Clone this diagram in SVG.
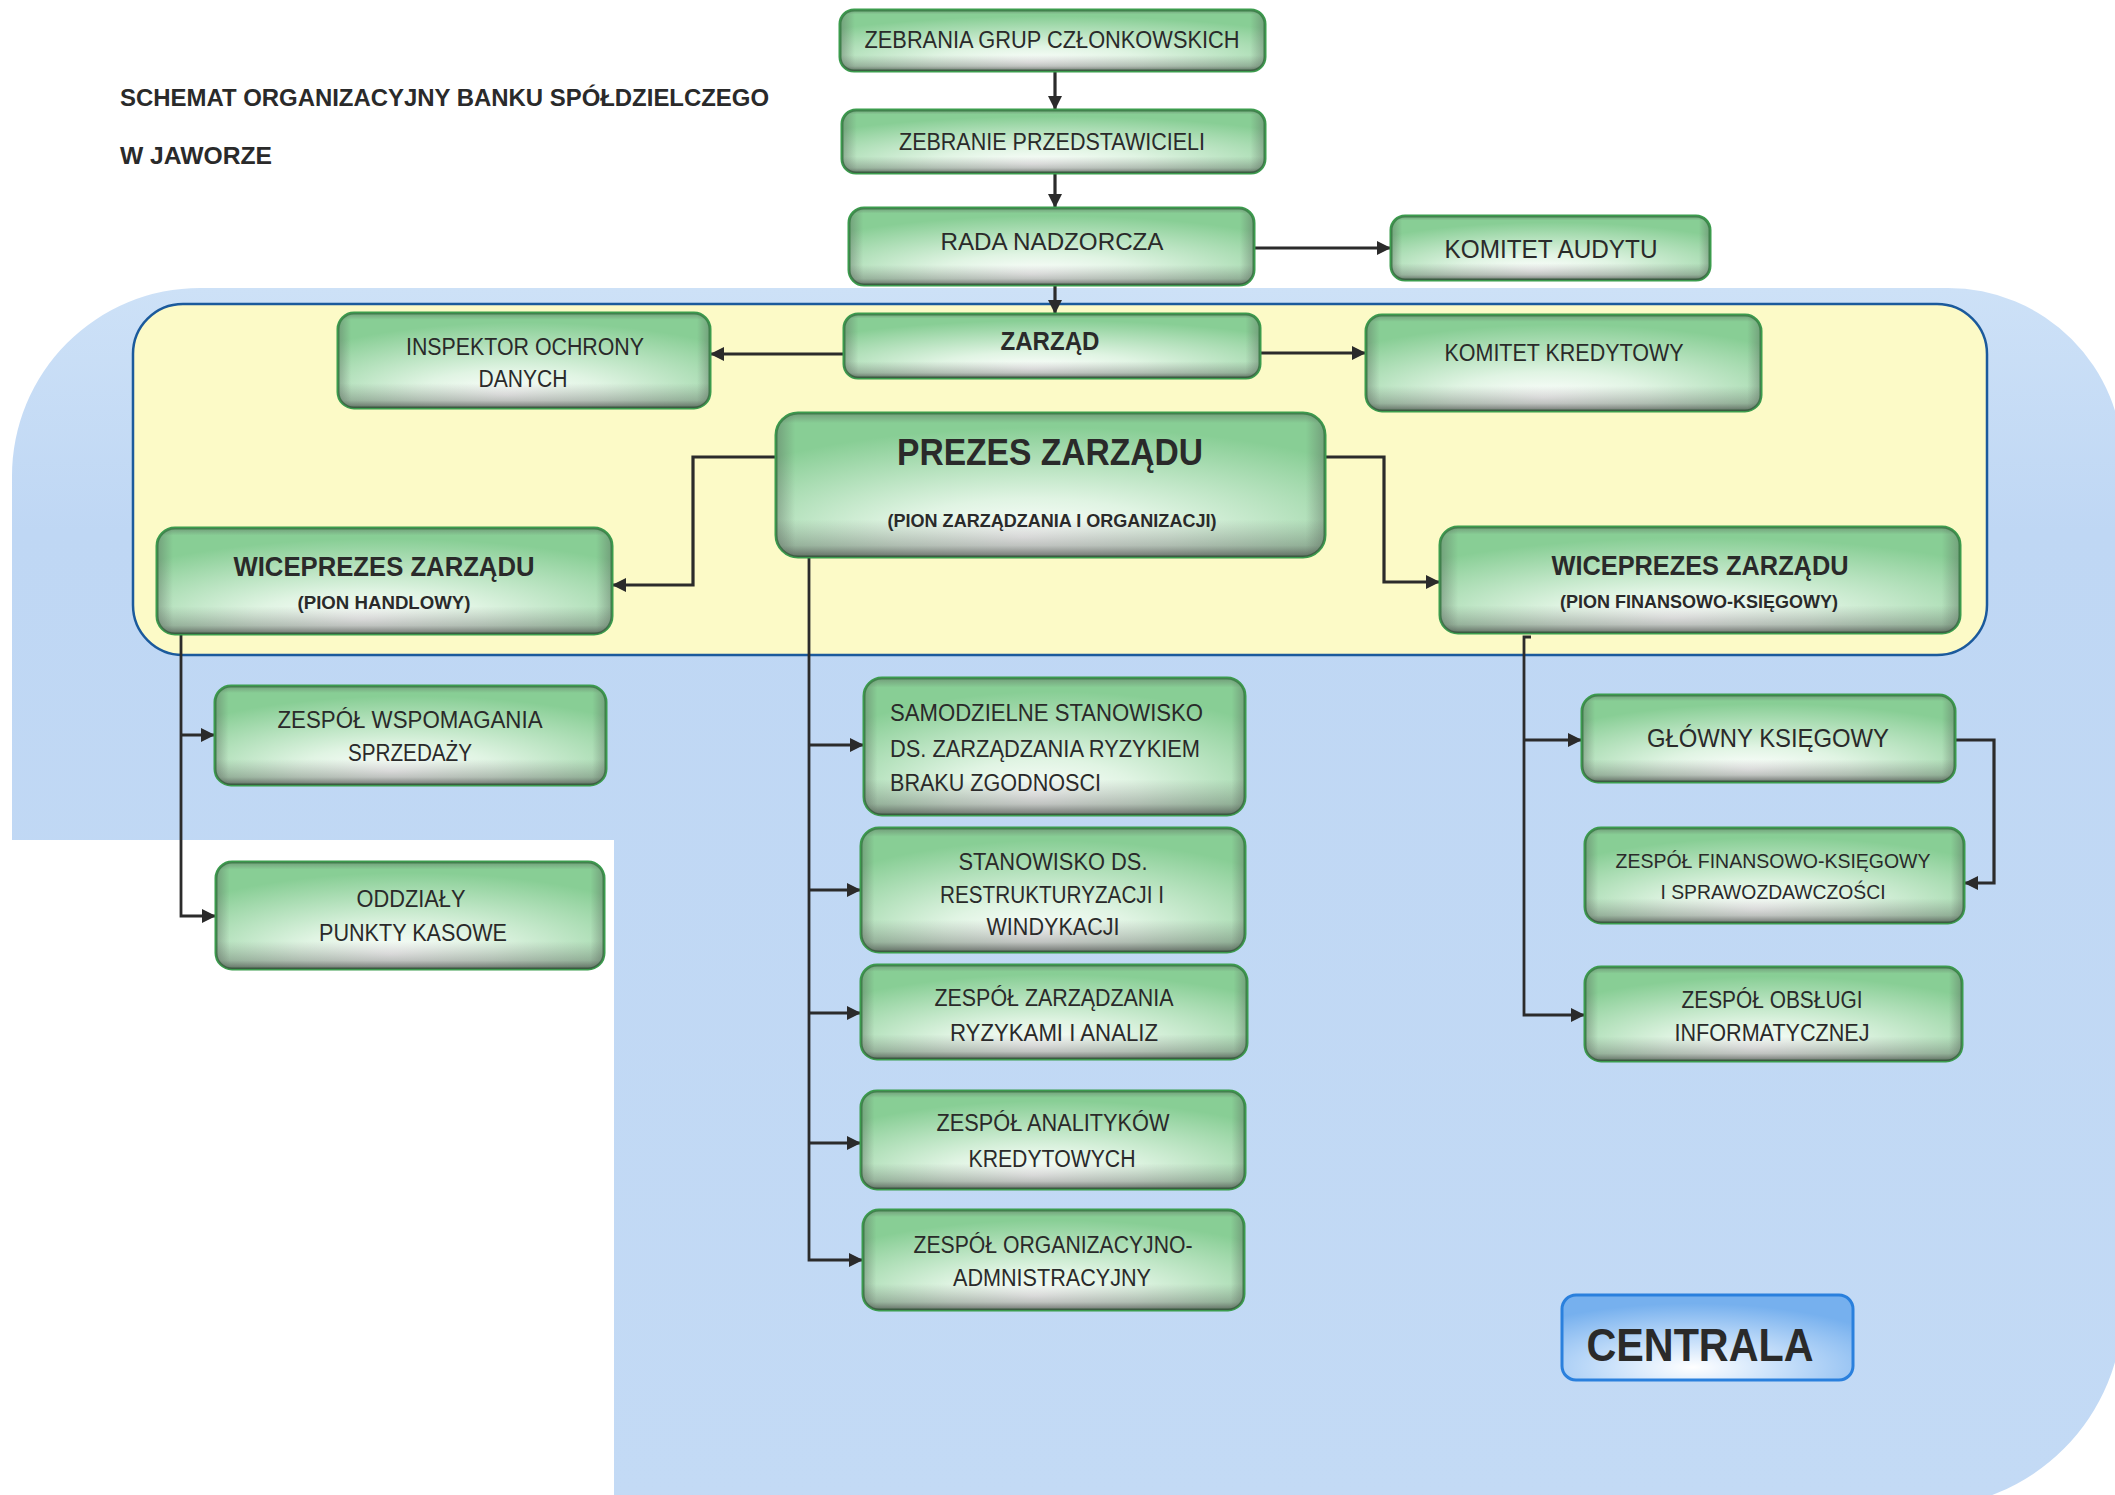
<svg xmlns="http://www.w3.org/2000/svg" width="2115" height="1495" viewBox="0 0 2115 1495">
<style>
text{font-family:"Liberation Sans",Arial,sans-serif;fill:#2a2a2a}
.t{font-size:23px;text-anchor:middle}
.tb{font-weight:bold;text-anchor:middle}
.b{fill:url(#gGreen);stroke:#3b9c4d;stroke-width:3}
.s{fill:url(#gShade);stroke:none}
.sd{fill:url(#gSide);stroke:none}
.c{fill:none;stroke:#2b2b2b;stroke-width:3.2;stroke-linejoin:miter}
.ca{marker-end:url(#arr)}
</style>
<defs>
<radialGradient id="gGreen" cx="0.5" cy="0.82" r="0.72" fx="0.45" fy="0.86">
<stop offset="0" stop-color="#ffffff"/>
<stop offset="0.35" stop-color="#e0f4e3"/>
<stop offset="1" stop-color="#88ce95"/>
</radialGradient>
<linearGradient id="gShade" x1="0" y1="0" x2="0" y2="1">
<stop offset="0" stop-color="#505050" stop-opacity="0.4"/>
<stop offset="0.07" stop-color="#505050" stop-opacity="0"/>
<stop offset="0.74" stop-color="#505050" stop-opacity="0"/>
<stop offset="0.92" stop-color="#4a4a4a" stop-opacity="0.32"/>
<stop offset="1" stop-color="#3a3a3a" stop-opacity="0.7"/>
</linearGradient>
<linearGradient id="gSide" x1="0" y1="0" x2="1" y2="0">
<stop offset="0" stop-color="#4a4a4a" stop-opacity="0.35"/>
<stop offset="0.035" stop-color="#4a4a4a" stop-opacity="0"/>
<stop offset="0.965" stop-color="#4a4a4a" stop-opacity="0"/>
<stop offset="1" stop-color="#4a4a4a" stop-opacity="0.35"/>
</linearGradient>
<radialGradient id="gBlueBox" cx="0.45" cy="0.85" r="0.75">
<stop offset="0" stop-color="#ffffff"/>
<stop offset="0.35" stop-color="#cfe4fb"/>
<stop offset="1" stop-color="#76b0ee"/>
</radialGradient>
<linearGradient id="gBg" x1="0" y1="288" x2="0" y2="1500" gradientUnits="userSpaceOnUse">
<stop offset="0" stop-color="#cde1f7"/>
<stop offset="0.2" stop-color="#bfd7f4"/>
<stop offset="1" stop-color="#c3daf5"/>
</linearGradient>
<marker id="arr" viewBox="0 0 14 14" refX="13" refY="7" markerWidth="14" markerHeight="14" markerUnits="userSpaceOnUse" orient="auto">
<path d="M0,0 L14,7 L0,14 Z" fill="#2b2b2b"/>
</marker>
</defs>
<rect x="0" y="0" width="2115" height="1495" fill="#ffffff"/>
<g id="background">
<path d="M200 288 H1948 A175 175 0 0 1 2123 463 V1306 A202 202 0 0 1 1921 1508 H614 V840 H12 V476 A188 188 0 0 1 200 288 Z" fill="url(#gBg)"/>
<rect x="133" y="304" width="1854" height="351" rx="50" fill="#fcfac7" stroke="#1b5a9c" stroke-width="2.5"/>
</g>
<g id="title">
<text x="120" y="106" style="font-size:24px;font-weight:bold" textLength="649" lengthAdjust="spacingAndGlyphs">SCHEMAT ORGANIZACYJNY BANKU SPÓŁDZIELCZEGO</text>
<text x="120" y="164" style="font-size:24px;font-weight:bold" textLength="152" lengthAdjust="spacingAndGlyphs">W JAWORZE</text>
</g>
<g id="connectors">
<path class="c ca" d="M1055 71 V109"/>
<path class="c ca" d="M1055 173 V207"/>
<path class="c ca" d="M1055 285 V313"/>
<path class="c ca" d="M1254 248 H1390"/>
<path class="c ca" d="M844 354 H711"/>
<path class="c ca" d="M1260 353 H1365"/>
<path class="c ca" d="M776 457 H693 V585 H613"/>
<path class="c ca" d="M1325 457 H1384 V582 H1439"/>
<path class="c ca" d="M181 634 V916 H215" style="stroke-width:2.8"/>
<path class="c ca" d="M181 735 H214"/>
<path class="c ca" d="M809 558 V1260 H862" style="stroke-width:2.8"/>
<path class="c ca" d="M809 745 H863"/>
<path class="c ca" d="M809 890 H860"/>
<path class="c ca" d="M809 1013 H860"/>
<path class="c ca" d="M809 1143 H860"/>
<path class="c ca" d="M1531 637 H1524 V1015 H1584" style="stroke-width:2.8"/>
<path class="c ca" d="M1524 740 H1581"/>
<path class="c ca" d="M1955 740 H1994 V883 H1965"/>
</g>
<g id="n-zebrania-grup">
<rect class="b" x="840" y="10" width="425" height="61" rx="14"/><rect class="s" x="840" y="10" width="425" height="61" rx="14"/><rect class="sd" x="840" y="10" width="425" height="61" rx="14"/>
<text class="t" x="1052" y="48" textLength="375" lengthAdjust="spacingAndGlyphs">ZEBRANIA GRUP CZŁONKOWSKICH</text>
</g>
<g id="n-zebranie-przedstawicieli">
<rect class="b" x="842" y="110" width="423" height="63" rx="14"/><rect class="s" x="842" y="110" width="423" height="63" rx="14"/><rect class="sd" x="842" y="110" width="423" height="63" rx="14"/>
<text class="t" x="1052" y="150" textLength="306" lengthAdjust="spacingAndGlyphs">ZEBRANIE PRZEDSTAWICIELI</text>
</g>
<g id="n-rada-nadzorcza">
<rect class="b" x="849" y="208" width="405" height="77" rx="15"/><rect class="s" x="849" y="208" width="405" height="77" rx="15"/><rect class="sd" x="849" y="208" width="405" height="77" rx="15"/>
<text class="t" x="1052" y="250" style="font-size:24px" textLength="223" lengthAdjust="spacingAndGlyphs">RADA NADZORCZA</text>
</g>
<g id="n-komitet-audytu">
<rect class="b" x="1391" y="216" width="319" height="64" rx="14"/><rect class="s" x="1391" y="216" width="319" height="64" rx="14"/><rect class="sd" x="1391" y="216" width="319" height="64" rx="14"/>
<text class="t" x="1551" y="258" style="font-size:25px" textLength="213" lengthAdjust="spacingAndGlyphs">KOMITET AUDYTU</text>
</g>
<g id="n-zarzad">
<rect class="b" x="844" y="314" width="416" height="64" rx="14"/><rect class="s" x="844" y="314" width="416" height="64" rx="14"/><rect class="sd" x="844" y="314" width="416" height="64" rx="14"/>
<text class="tb" x="1050" y="350" style="font-size:25px" textLength="99" lengthAdjust="spacingAndGlyphs">ZARZĄD</text>
</g>
<g id="n-inspektor">
<rect class="b" x="338" y="313" width="372" height="95" rx="16"/><rect class="s" x="338" y="313" width="372" height="95" rx="16"/><rect class="sd" x="338" y="313" width="372" height="95" rx="16"/>
<text class="t" x="525" y="355" textLength="238" lengthAdjust="spacingAndGlyphs">INSPEKTOR OCHRONY</text>
<text class="t" x="523" y="387" textLength="89" lengthAdjust="spacingAndGlyphs">DANYCH</text>
</g>
<g id="n-komitet-kredytowy">
<rect class="b" x="1366" y="315" width="395" height="96" rx="16"/><rect class="s" x="1366" y="315" width="395" height="96" rx="16"/><rect class="sd" x="1366" y="315" width="395" height="96" rx="16"/>
<text class="t" x="1564" y="361" textLength="239" lengthAdjust="spacingAndGlyphs">KOMITET KREDYTOWY</text>
</g>
<g id="n-prezes">
<rect class="b" x="776" y="413" width="549" height="144" rx="22"/><rect class="s" x="776" y="413" width="549" height="144" rx="22"/><rect class="sd" x="776" y="413" width="549" height="144" rx="22"/>
<text class="tb" x="1050" y="465" style="font-size:36px" textLength="306" lengthAdjust="spacingAndGlyphs">PREZES ZARZĄDU</text>
<text class="tb" x="1052" y="527" style="font-size:18px" textLength="329" lengthAdjust="spacingAndGlyphs">(PION ZARZĄDZANIA I ORGANIZACJI)</text>
</g>
<g id="n-wiceprezes-handlowy">
<rect class="b" x="157" y="528" width="455" height="106" rx="18"/><rect class="s" x="157" y="528" width="455" height="106" rx="18"/><rect class="sd" x="157" y="528" width="455" height="106" rx="18"/>
<text class="tb" x="384" y="576" style="font-size:27px" textLength="301" lengthAdjust="spacingAndGlyphs">WICEPREZES ZARZĄDU</text>
<text class="tb" x="384" y="609" style="font-size:18px" textLength="173" lengthAdjust="spacingAndGlyphs">(PION HANDLOWY)</text>
</g>
<g id="n-wiceprezes-finansowy">
<rect class="b" x="1440" y="527" width="520" height="106" rx="18"/><rect class="s" x="1440" y="527" width="520" height="106" rx="18"/><rect class="sd" x="1440" y="527" width="520" height="106" rx="18"/>
<text class="tb" x="1700" y="575" style="font-size:27px" textLength="297" lengthAdjust="spacingAndGlyphs">WICEPREZES ZARZĄDU</text>
<text class="tb" x="1699" y="608" style="font-size:18px" textLength="278" lengthAdjust="spacingAndGlyphs">(PION FINANSOWO-KSIĘGOWY)</text>
</g>
<g id="n-wspomagania">
<rect class="b" x="215" y="686" width="391" height="99" rx="16"/><rect class="s" x="215" y="686" width="391" height="99" rx="16"/><rect class="sd" x="215" y="686" width="391" height="99" rx="16"/>
<text class="t" x="410" y="728" textLength="265" lengthAdjust="spacingAndGlyphs">ZESPÓŁ WSPOMAGANIA</text>
<text class="t" x="410" y="761" textLength="124" lengthAdjust="spacingAndGlyphs">SPRZEDAŻY</text>
</g>
<g id="n-oddzialy">
<rect class="b" x="216" y="862" width="388" height="107" rx="16"/><rect class="s" x="216" y="862" width="388" height="107" rx="16"/><rect class="sd" x="216" y="862" width="388" height="107" rx="16"/>
<text class="t" x="411" y="907" textLength="109" lengthAdjust="spacingAndGlyphs">ODDZIAŁY</text>
<text class="t" x="413" y="941" textLength="188" lengthAdjust="spacingAndGlyphs">PUNKTY KASOWE</text>
</g>
<g id="n-samodzielne">
<rect class="b" x="864" y="678" width="381" height="137" rx="18"/><rect class="s" x="864" y="678" width="381" height="137" rx="18"/><rect class="sd" x="864" y="678" width="381" height="137" rx="18"/>
<text x="890" y="721" style="font-size:23px" textLength="313" lengthAdjust="spacingAndGlyphs">SAMODZIELNE STANOWISKO</text>
<text x="890" y="757" style="font-size:23px" textLength="310" lengthAdjust="spacingAndGlyphs">DS. ZARZĄDZANIA RYZYKIEM</text>
<text x="890" y="791" style="font-size:23px" textLength="211" lengthAdjust="spacingAndGlyphs">BRAKU ZGODNOSCI</text>
</g>
<g id="n-restrukturyzacja">
<rect class="b" x="861" y="828" width="384" height="124" rx="18"/><rect class="s" x="861" y="828" width="384" height="124" rx="18"/><rect class="sd" x="861" y="828" width="384" height="124" rx="18"/>
<text class="t" x="1053" y="870" textLength="189" lengthAdjust="spacingAndGlyphs">STANOWISKO DS.</text>
<text class="t" x="1052" y="903" textLength="224" lengthAdjust="spacingAndGlyphs">RESTRUKTURYZACJI I</text>
<text class="t" x="1053" y="935" textLength="133" lengthAdjust="spacingAndGlyphs">WINDYKACJI</text>
</g>
<g id="n-ryzyka">
<rect class="b" x="861" y="965" width="386" height="94" rx="16"/><rect class="s" x="861" y="965" width="386" height="94" rx="16"/><rect class="sd" x="861" y="965" width="386" height="94" rx="16"/>
<text class="t" x="1054" y="1006" textLength="239" lengthAdjust="spacingAndGlyphs">ZESPÓŁ ZARZĄDZANIA</text>
<text class="t" x="1054" y="1041" textLength="208" lengthAdjust="spacingAndGlyphs">RYZYKAMI I ANALIZ</text>
</g>
<g id="n-analitycy">
<rect class="b" x="861" y="1091" width="384" height="98" rx="16"/><rect class="s" x="861" y="1091" width="384" height="98" rx="16"/><rect class="sd" x="861" y="1091" width="384" height="98" rx="16"/>
<text class="t" x="1053" y="1131" textLength="233" lengthAdjust="spacingAndGlyphs">ZESPÓŁ ANALITYKÓW</text>
<text class="t" x="1052" y="1167" textLength="167" lengthAdjust="spacingAndGlyphs">KREDYTOWYCH</text>
</g>
<g id="n-organizacyjny">
<rect class="b" x="863" y="1210" width="381" height="100" rx="16"/><rect class="s" x="863" y="1210" width="381" height="100" rx="16"/><rect class="sd" x="863" y="1210" width="381" height="100" rx="16"/>
<text class="t" x="1053" y="1253" textLength="279" lengthAdjust="spacingAndGlyphs">ZESPÓŁ ORGANIZACYJNO-</text>
<text class="t" x="1052" y="1286" textLength="198" lengthAdjust="spacingAndGlyphs">ADMNISTRACYJNY</text>
</g>
<g id="n-glowny-ksiegowy">
<rect class="b" x="1582" y="695" width="373" height="87" rx="16"/><rect class="s" x="1582" y="695" width="373" height="87" rx="16"/><rect class="sd" x="1582" y="695" width="373" height="87" rx="16"/>
<text class="t" x="1768" y="747" style="font-size:25px" textLength="242" lengthAdjust="spacingAndGlyphs">GŁÓWNY KSIĘGOWY</text>
</g>
<g id="n-finansowo-ksiegowy">
<rect class="b" x="1585" y="828" width="379" height="95" rx="16"/><rect class="s" x="1585" y="828" width="379" height="95" rx="16"/><rect class="sd" x="1585" y="828" width="379" height="95" rx="16"/>
<text class="t" x="1773" y="868" style="font-size:21px" textLength="315" lengthAdjust="spacingAndGlyphs">ZESPÓŁ FINANSOWO-KSIĘGOWY</text>
<text class="t" x="1773" y="899" style="font-size:21px" textLength="225" lengthAdjust="spacingAndGlyphs">I SPRAWOZDAWCZOŚCI</text>
</g>
<g id="n-informatyka">
<rect class="b" x="1585" y="967" width="377" height="94" rx="16"/><rect class="s" x="1585" y="967" width="377" height="94" rx="16"/><rect class="sd" x="1585" y="967" width="377" height="94" rx="16"/>
<text class="t" x="1772" y="1008" textLength="181" lengthAdjust="spacingAndGlyphs">ZESPÓŁ OBSŁUGI</text>
<text class="t" x="1772" y="1041" textLength="195" lengthAdjust="spacingAndGlyphs">INFORMATYCZNEJ</text>
</g>
<g id="n-centrala">
<rect x="1562" y="1295" width="291" height="85" rx="14" fill="url(#gBlueBox)" stroke="#2a80dd" stroke-width="3"/>
<text class="tb" x="1700" y="1361" style="font-size:46px" textLength="227" lengthAdjust="spacingAndGlyphs">CENTRALA</text>
</g>
</svg>
